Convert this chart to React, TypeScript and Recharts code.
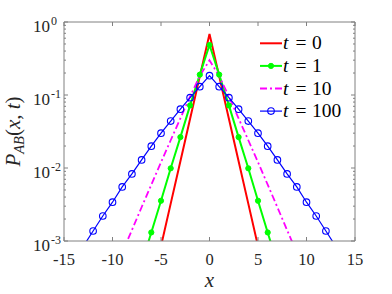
import React from 'react';
import { LineChart, Line, XAxis, YAxis, Legend } from 'recharts';

// distance |x| from origin (profiles are symmetric about x = 0)
const distances = [0, 1, 2, 3, 4, 5, 6, 7, 8, 9, 10, 11, 12, 13];
const pT0 = [0.685, 0.18, 0.0472, 0.0124, 0.00325, 0.00085];
const pT1 = [0.484, 0.19, 0.072, 0.0265, 0.0099, 0.00356, 0.00131, 0.00048];
const pT10 = [0.299, 0.182, 0.0955, 0.0479, 0.024, 0.012, 0.0059, 0.0029, 0.00141, 0.00069];
const pT100 = [0.184, 0.13, 0.092, 0.064, 0.044, 0.03, 0.0199, 0.0129, 0.0083, 0.0055, 0.0034, 0.0022, 0.00137, 0.00085];

const xTicks = [-15, -10, -5, 0, 5, 10, 15];
const yDecades = [0.001, 0.01, 0.1, 1];
const minorSteps = [2, 3, 4, 5, 6, 7, 8, 9];
const tLabels = ['0', '1', '10', '100'];

const positions = [...distances.slice(1).reverse().map((d) => -d), ...distances];
const pick = (arr: number[], x: number) => {
  const v = arr[Math.abs(x)];
  return v === undefined ? null : v;
};
const data = positions.map((x) => ({
  x,
  t0: pick(pT0, x),
  t1: pick(pT1, x),
  t10: pick(pT10, x),
  t100: pick(pT100, x),
}));

const yTicks = [
  ...yDecades,
  ...yDecades.slice(0, 3).flatMap((d) => minorSteps.map((m) => +(d * m).toPrecision(6))),
];

const AXIS = '#808080';
const TXT = '#262626';
const FONT = 'Liberation Serif, DejaVu Serif, serif';

const series = [
  { key: 't0', color: '#ff0000', width: 2, dash: undefined as string | undefined, marker: 'none' },
  { key: 't1', color: '#00ff00', width: 2, dash: undefined as string | undefined, marker: 'dot' },
  { key: 't10', color: '#ff00ff', width: 1.8, dash: '7 3 2 3', marker: 'none' },
  { key: 't100', color: '#0000ff', width: 1.2, dash: undefined as string | undefined, marker: 'circle' },
];

const isMajor = (v: number) => {
  const l = Math.log10(v);
  return Math.abs(l - Math.round(l)) < 1e-6;
};

const LeftTick = (props: any) => {
  const { x, y, payload } = props;
  const v = payload.value;
  const major = isMajor(v);
  const exp = Math.round(Math.log10(v));
  return (
    <g>
      <line x1={x} x2={x + (major ? 4 : 2)} y1={y} y2={y} stroke={AXIS} strokeWidth={1} />
      {major && (
        <text fontFamily={FONT} fill={TXT}>
          <tspan x={x - 14} y={y + 10} fontSize={17} textAnchor="end">10</tspan>
          <tspan x={x - 13} y={y + 3} fontSize={12} textAnchor="start">{String(exp)}</tspan>
        </text>
      )}
    </g>
  );
};

const RightTick = (props: any) => {
  const { x, y, payload } = props;
  const major = isMajor(payload.value);
  return <line x1={x} x2={x - (major ? 4 : 2)} y1={y} y2={y} stroke={AXIS} strokeWidth={1} />;
};

const BottomTick = (props: any) => {
  const { x, y, payload } = props;
  return (
    <g>
      <line x1={x} x2={x} y1={y} y2={y - 4} stroke={AXIS} strokeWidth={1} />
      <text x={x} y={y + 23.5} textAnchor="middle" fontSize={16.5} fontFamily={FONT} fill={TXT}>
        {String(payload.value)}
      </text>
    </g>
  );
};

const TopTick = (props: any) => {
  const { x, y } = props;
  return <line x1={x} x2={x} y1={y} y2={y + 4} stroke={AXIS} strokeWidth={1} />;
};

const YLabel = (props: any) => {
  const vb = props.viewBox || { x: 0, y: 22, width: 64, height: 219 };
  const cy = vb.y + vb.height / 2;
  return (
    <text
      transform={`translate(20, ${cy}) rotate(-90)`}
      textAnchor="middle"
      fontFamily={FONT}
      fontSize={21}
      fill={TXT}
    >
      <tspan fontStyle="italic">P</tspan>
      <tspan fontStyle="italic" fontSize={14.5} dy={4}>AB</tspan>
      <tspan dy={-4}>(</tspan>
      <tspan fontStyle="italic">x</tspan>
      <tspan>, </tspan>
      <tspan fontStyle="italic">t</tspan>
      <tspan>)</tspan>
    </text>
  );
};

const XLabel = (props: any) => {
  const vb = props.viewBox || { x: 64, y: 241, width: 291, height: 53 };
  return (
    <text
      x={vb.x + vb.width / 2}
      y={vb.y + 46}
      textAnchor="middle"
      fontFamily={FONT}
      fontSize={21}
      fontStyle="italic"
      fill={TXT}
    >
      x
    </text>
  );
};

const makeDot = (kind: string, color: string) => (props: any) => {
  const { cx, cy, value, index } = props;
  const key = `${kind}-${index}`;
  if (cx == null || cy == null || value == null || value < 0.001) return <g key={key} />;
  if (kind === 'dot')
    return <circle key={key} cx={cx} cy={cy} r={2.6} fill={color} stroke={color} strokeWidth={1} />;
  return <circle key={key} cx={cx} cy={cy} r={3.3} fill="none" stroke={color} strokeWidth={1.1} />;
};

const LegendBox = () => (
  <svg width={100} height={95} style={{ display: 'block', overflow: 'visible' }}>
    {series.map((s, i) => {
      const cy = 13.3 + i * 22.6;
      return (
        <g key={s.key}>
          <line x1={5} x2={27} y1={cy} y2={cy} stroke={s.color} strokeWidth={s.width} strokeDasharray={s.dash} />
          {s.marker === 'dot' && <circle cx={16} cy={cy} r={2.6} fill={s.color} stroke={s.color} />}
          {s.marker === 'circle' && (
            <circle cx={16} cy={cy} r={3.3} fill="none" stroke={s.color} strokeWidth={1.1} />
          )}
          <text y={cy + 6} fontSize={19.5} fontFamily={FONT} fill="#000">
            <tspan x={28} fontStyle="italic">t</tspan>
            <tspan x={40.5}>=</tspan>
            <tspan x={57}>{tLabels[i]}</tspan>
          </text>
        </g>
      );
    })}
  </svg>
);

export default function App() {
  return (
    <div style={{ position: 'absolute', left: 0, top: 0, background: '#fff' }}>
      <LineChart
        width={392}
        height={294}
        data={data}
        margin={{ top: 0, right: 0, bottom: 0, left: 0 }}
        style={{ fontFamily: FONT }}
      >
        <XAxis
          dataKey="x"
          type="number"
          domain={[-15, 15]}
          allowDataOverflow
          ticks={xTicks}
          interval={0}
          height={53}
          tickSize={0}
          tickMargin={0}
          tickLine={false}
          axisLine={{ stroke: AXIS, strokeWidth: 1 }}
          tick={<BottomTick />}
          label={{ content: (p: any) => <XLabel {...p} /> }}
        />
        <XAxis
          xAxisId="top"
          orientation="top"
          dataKey="x"
          type="number"
          domain={[-15, 15]}
          allowDataOverflow
          ticks={xTicks}
          interval={0}
          height={22}
          tickSize={0}
          tickMargin={0}
          tickLine={false}
          axisLine={{ stroke: AXIS, strokeWidth: 1 }}
          tick={<TopTick />}
        />
        <YAxis
          type="number"
          scale="log"
          domain={[0.001, 1]}
          allowDataOverflow
          ticks={yTicks}
          interval={0}
          width={64}
          tickSize={0}
          tickMargin={0}
          tickLine={false}
          axisLine={{ stroke: AXIS, strokeWidth: 1 }}
          tick={<LeftTick />}
          label={{ content: (p: any) => <YLabel {...p} /> }}
        />
        <YAxis
          yAxisId="right"
          orientation="right"
          type="number"
          scale="log"
          domain={[0.001, 1]}
          allowDataOverflow
          ticks={yTicks}
          interval={0}
          width={37}
          tickSize={0}
          tickMargin={0}
          tickLine={false}
          axisLine={{ stroke: AXIS, strokeWidth: 1 }}
          tick={<RightTick />}
        />
        <Legend
          layout="vertical"
          align="center"
          verticalAlign="middle"
          wrapperStyle={{ position: 'absolute', left: 255, top: 30, width: 100, height: 95 }}
          content={() => <LegendBox />}
        />
        {series.map((s) => (
          <Line
            key={s.key}
            dataKey={s.key}
            type="linear"
            stroke={s.color}
            strokeWidth={s.width}
            strokeDasharray={s.dash}
            isAnimationActive={false}
            dot={s.marker === 'none' ? false : makeDot(s.marker, s.color)}
            activeDot={false}
          />
        ))}
      </LineChart>
    </div>
  );
}
